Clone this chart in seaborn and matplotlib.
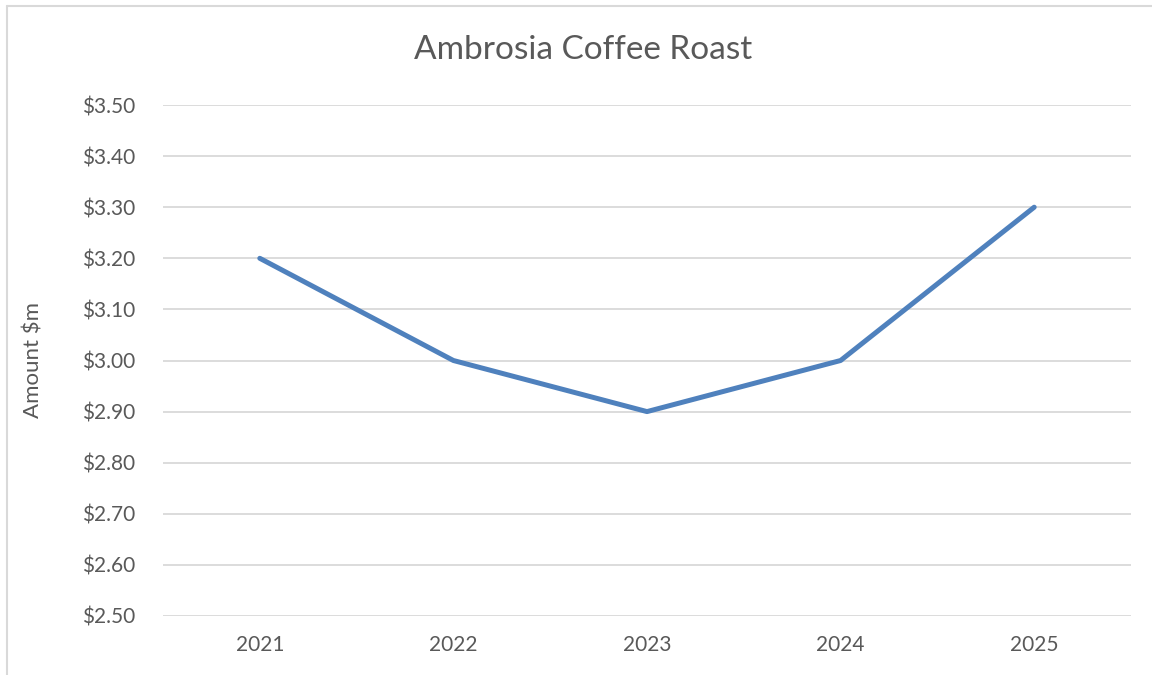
import matplotlib
matplotlib.use("Agg")
import matplotlib.pyplot as plt
import seaborn as sns
import pandas as pd
from matplotlib.ticker import FuncFormatter
from matplotlib.lines import Line2D

years = ["2021", "2022", "2023", "2024", "2025"]
amounts = [3.20, 3.00, 2.90, 3.00, 3.30]
title = "Ambrosia Coffee Roast"
ylabel = "Amount $m"

sns.set_theme(style="white")
plt.rcParams['font.family'] = ['Lato', 'DejaVu Sans']

df = pd.DataFrame({"year": years, "amount": amounts})

fig = plt.figure(figsize=(11.52, 6.75), dpi=100)
ax = fig.add_axes([163/1152, 1-616/675, (1131-163)/1152, (616-105)/675])

sns.lineplot(data=df, x="year", y="amount", ax=ax, color="#4F81BD",
             linewidth=3.6, solid_capstyle="round", solid_joinstyle="round")

ax.set_xlim(-0.5, len(years) - 0.5)
ax.set_ylim(2.5, 3.5)
ax.set_yticks([2.5 + 0.1*i for i in range(11)])
ax.yaxis.set_major_formatter(FuncFormatter(lambda v, p: f"${v:.2f}"))
ax.grid(axis="y", color="#D9D9D9", linewidth=1.3)
ax.set_axisbelow(True)
for s in ax.spines.values():
    s.set_visible(False)
ax.tick_params(axis="both", length=0, labelsize=15, labelcolor="#595959")
ax.tick_params(axis="y", pad=20)
ax.tick_params(axis="x", pad=14)
ax.set_xlabel("")
ax.set_ylabel("")
fig.text(33/1152, 1-360/675, ylabel, rotation=90, ha="center", va="center",
         fontsize=16, color="#595959")

fig.text(583/1152, 1-50/675, title, ha="center", va="center", fontsize=24, color="#595959")

# chart border (left and top visible)
fig.add_artist(Line2D([7/1152, 7/1152], [0, 1-6/675], transform=fig.transFigure, color="#D9D9D9", linewidth=1.5))
fig.add_artist(Line2D([7/1152, 1], [1-6/675, 1-6/675], transform=fig.transFigure, color="#D9D9D9", linewidth=1.5))

fig.savefig("out.png", dpi=100)
